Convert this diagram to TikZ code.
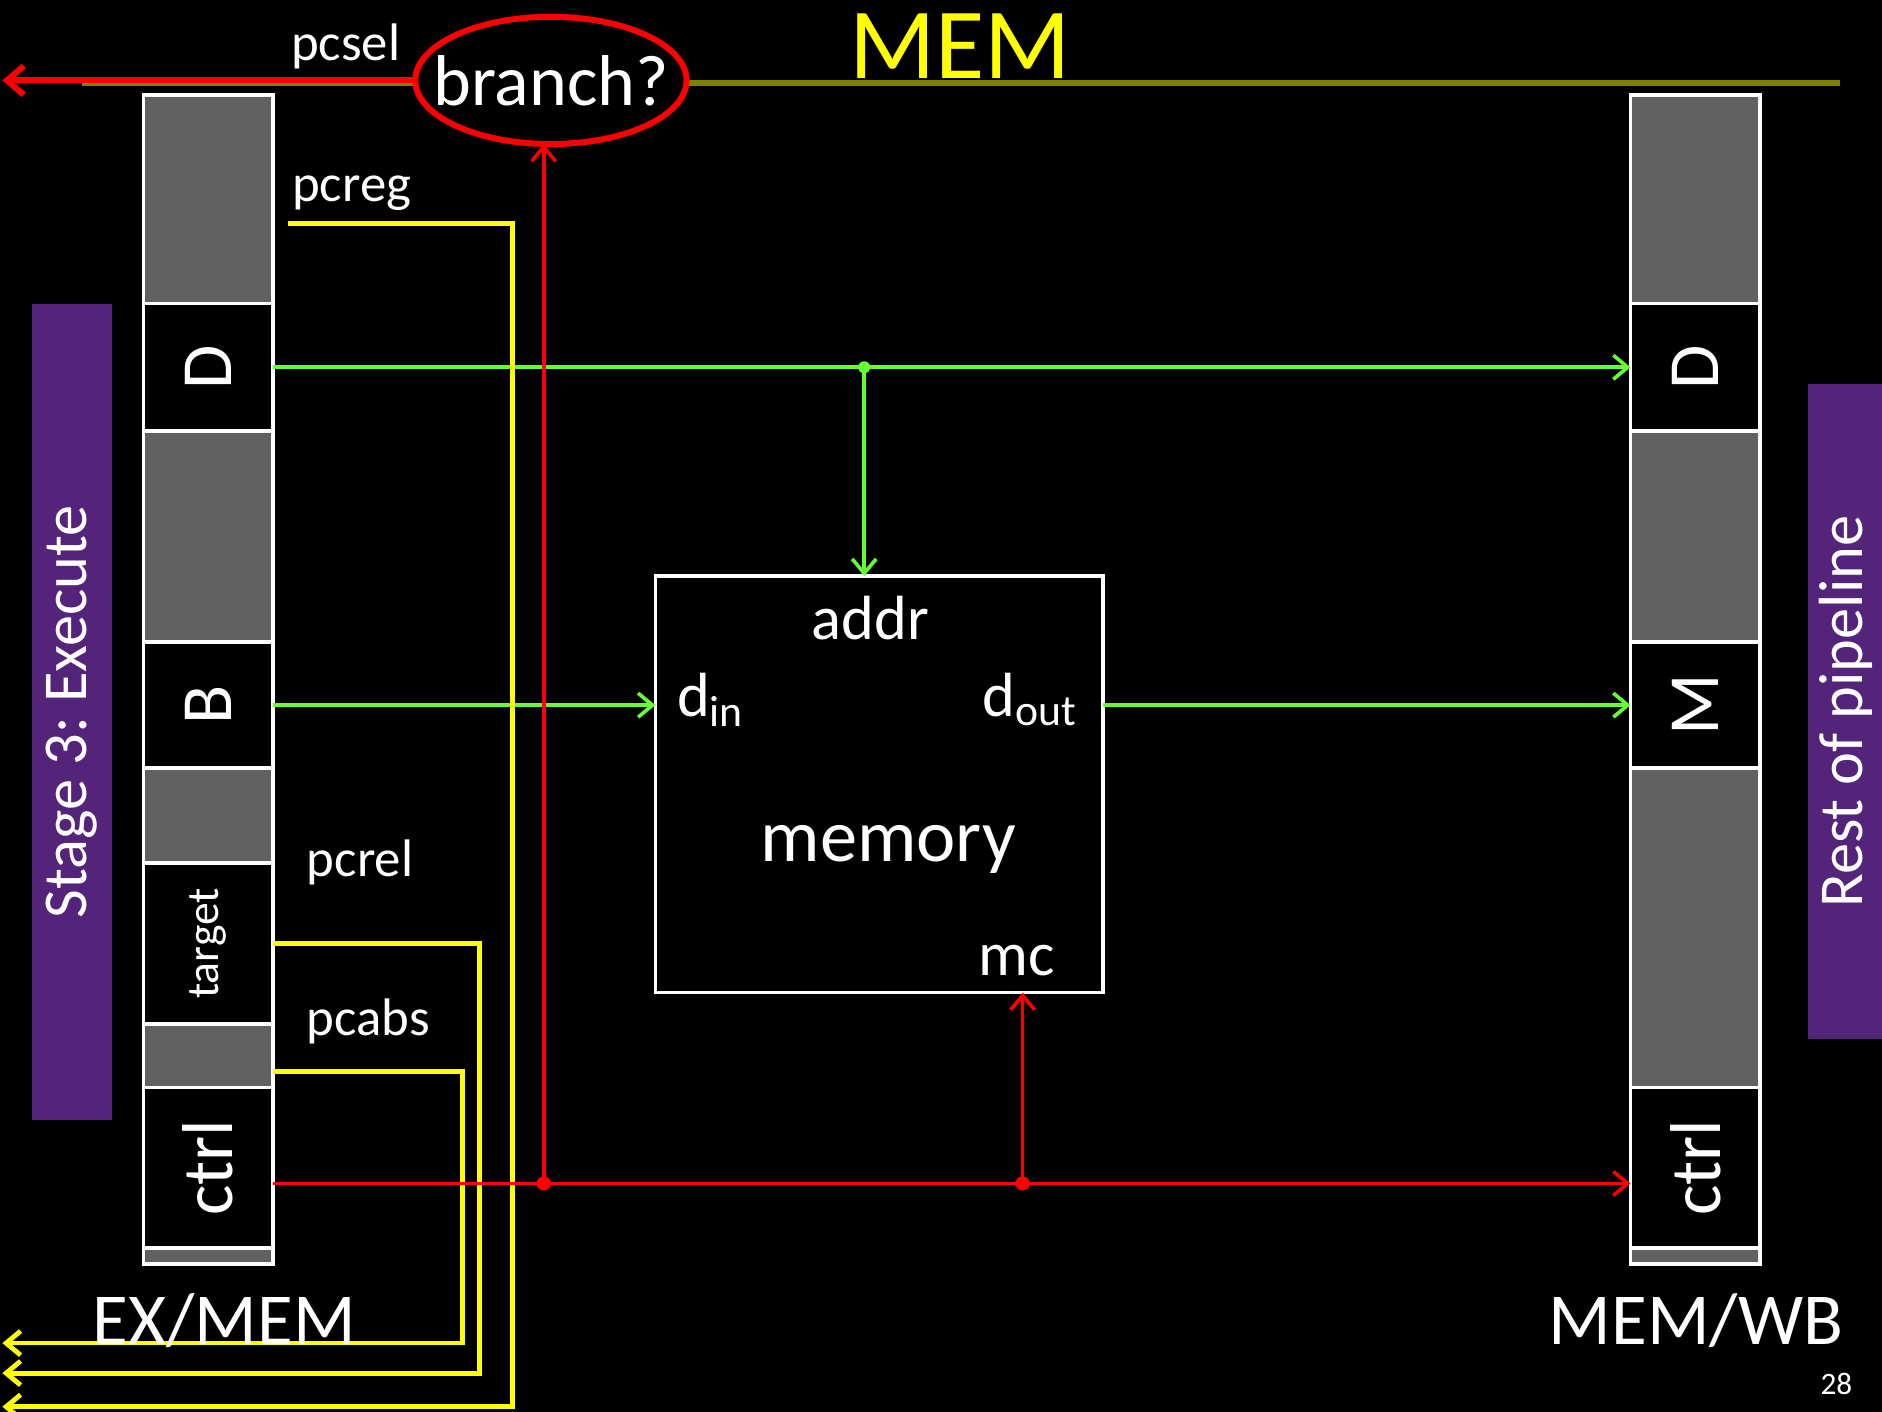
\documentclass[tikz,border=0pt]{standalone}
\usepackage{fontspec}
\setmainfont{Carlito}
\usepackage{graphicx}
\usepackage{tikz}
\usetikzlibrary{positioning, shapes.geometric, arrows.meta}
\definecolor{RegGray}{HTML}{616161}
\definecolor{StagePurple}{HTML}{54247A}
\definecolor{BusOlive}{HTML}{7F7F00}
\definecolor{WireGreen}{HTML}{66FF33}
\definecolor{WireRed}{HTML}{FF0000}
\definecolor{WireYellow}{HTML}{FFFF00}
\frenchspacing

\begin{document}
\begin{tikzpicture}[
    x=0.5pt, y=-0.5pt,
    every node/.style={align=center, text=white, inner sep=0pt, outer sep=0pt},
    regcell/.style={draw=white, line width=1.5pt, minimum width=54pt, font=\fontsize{30}{30}\selectfont},
    grayreg/.style={regcell, fill=RegGray},
    blackreg/.style={regcell, fill=black},
    stagebar/.style={fill=StagePurple, rotate=90, font=\fontsize{26}{26}\selectfont},
    siglabel/.style={font=\fontsize{22}{22}\selectfont, anchor=base},
    portlabel/.style={font=\fontsize{26}{26}\selectfont, anchor=base},
    reglabel/.style={font=\fontsize{30.5}{30.5}\selectfont, anchor=base},
    wiretip/.style={-{Straight Barb[length=6pt, width=10pt]}},
    greenwire/.style={wiretip, WireGreen, line width=1.5pt},
    redwire/.style={wiretip, WireRed, line width=1.5pt},
    yellowwire/.style={wiretip, WireYellow, line width=2pt}
  ]

  % Slide background
  \fill[black] (0,0) rectangle (1568,1176);
  \useasboundingbox (0,0) rectangle (1568,1176);

  % Stage bars
  \node[stagebar, minimum width=340pt, minimum height=33pt] (stageBar) at (60,593) {Stage 3: Execute};
  \node[stagebar, minimum width=273pt, minimum height=31pt] (restBar) at (1537.5,593) {Rest of pipeline};

  % Stage bus and title
  \draw[BusOlive, line width=2.5pt] (68,69) -- (1533,69);
  \node[font=\fontsize{42}{42}\selectfont, text=WireYellow, anchor=base] (title) at (800,65) {MEM};

  % Branch decision
  \node[ellipse, draw=WireRed, line width=2.5pt, fill=black, minimum width=113pt, minimum height=53pt,
        font=\fontsize{30}{30}\selectfont] (branch) at (459,67) {\makebox[0pt]{branch?}};

  % EX/MEM register
  \node[grayreg, anchor=north, minimum height=87pt] (exG1) at (173.5,79) {};
  \node[blackreg, below=0pt of exG1, minimum height=53pt] (exD) {\rotatebox{90}{D}};
  \node[grayreg, below=0pt of exD, minimum height=88pt] (exG2) {};
  \node[blackreg, below=0pt of exG2, minimum height=52.5pt] (exB) {\rotatebox{90}{B}};
  \node[grayreg, below=0pt of exB, minimum height=39.5pt] (exG3) {};
  \node[blackreg, below=0pt of exG3, minimum height=67pt, font=\fontsize{19}{19}\selectfont] (exTarget) {\rotatebox{90}{target}};
  \node[grayreg, below=0pt of exTarget, minimum height=26.5pt] (exG4) {};
  \node[blackreg, below=0pt of exG4, minimum height=67pt] (exCtrl) {\rotatebox{90}{ctrl}};
  \node[grayreg, below=0pt of exCtrl, minimum height=6.5pt] (exG5) {};

  % MEM/WB register
  \node[grayreg, anchor=north, minimum height=87pt] (wbG1) at (1412.5,79) {};
  \node[blackreg, below=0pt of wbG1, minimum height=53pt] (wbD) {\rotatebox{90}{D}};
  \node[grayreg, below=0pt of wbD, minimum height=88pt] (wbG2) {};
  \node[blackreg, below=0pt of wbG2, minimum height=52.5pt] (wbM) {\rotatebox{90}{M}};
  \node[grayreg, below=0pt of wbM, minimum height=133pt] (wbG3) {};
  \node[blackreg, below=0pt of wbG3, minimum height=67pt] (wbCtrl) {\rotatebox{90}{ctrl}};
  \node[grayreg, below=0pt of wbCtrl, minimum height=6.5pt] (wbG5) {};

  % Data memory
  \node[draw=white, line width=1.5pt, fill=black, minimum width=186.5pt, minimum height=173.5pt] (mem) at (732.5,653.5) {};
  \node[portlabel] (addrLbl) at (725,533) {addr};
  \node[portlabel] (dinLbl) at (592,597) {d\textsubscript{in}};
  \node[portlabel] (doutLbl) at (858,597) {d\textsubscript{out}};
  \node[font=\fontsize{31}{31}\selectfont, anchor=base] (memLbl) at (740,718) {memory};
  \node[portlabel] (mcLbl) at (847,813) {mc};

  % Data wires
  \coordinate (addrTap) at (720,306);
  \draw[greenwire] (exD.east) -- (wbD.west);
  \draw[greenwire] (addrTap) -- (addrTap |- mem.north);
  \fill[WireGreen] (addrTap) circle (2.5pt);
  \draw[greenwire] (exB.east) -- (exB.east -| mem.west);
  \draw[greenwire] (mem.east |- wbM.west) -- (wbM.west);

  % PC wires
  \coordinate (pcregStart) at (240,186);
  \coordinate (pcregOut) at (2,1172);
  \coordinate (pcrelOut) at (2,1144);
  \coordinate (pcabsOut) at (2,1119);
  \draw[yellowwire] (pcregStart) -- ++(187,0) |- (pcregOut);
  \draw[yellowwire] (exTarget.east) -- ++(172,0) |- (pcrelOut);
  \draw[yellowwire] ([yshift=-6.5pt]exG4.east) -- ++(158,0) |- (pcabsOut);

  % Control wires
  \coordinate (branchTap) at (453,986);
  \coordinate (mcTap) at (852,986);
  \coordinate (pcselOut) at (2,67);
  \draw[redwire] ([yshift=-6.5pt]exCtrl.east) -- ([yshift=-6.5pt]wbCtrl.west);
  \draw[redwire] (branchTap) -- (branchTap |- branch.south);
  \draw[redwire] (mcTap) -- (mcTap |- mem.south);
  \fill[WireRed] (branchTap) circle (3pt) (mcTap) circle (3pt);
  \draw[WireRed, line width=2.5pt, -{Straight Barb[length=7pt, width=12pt]}] (branch.west) -- (pcselOut);

  % Signal labels
  \node[siglabel] (pcselLbl) at (288,50) {pcsel};
  \node[siglabel] (pcregLbl) at (293,168) {pcreg};
  \node[siglabel] (pcrelLbl) at (300,730) {pcrel};
  \node[siglabel] (pcabsLbl) at (307,863) {pcabs};

  % Register names
  \node[reglabel] (exLbl) at (187,1120) {EX/MEM};
  \node[reglabel] (wbLbl) at (1413,1120) {MEM/WB};
  \node[font=\fontsize{13}{13}\selectfont, anchor=base] (pageNum) at (1530,1162) {28};

\end{tikzpicture}
\end{document}
